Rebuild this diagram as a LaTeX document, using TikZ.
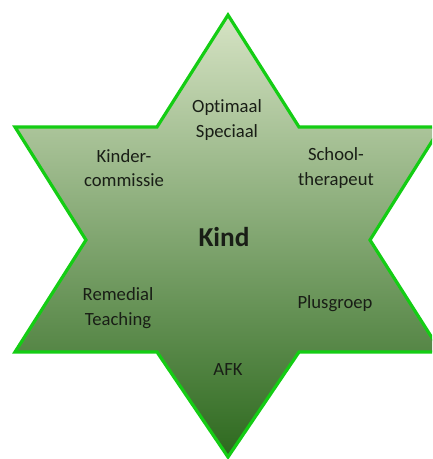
\documentclass[tikz,border=0pt]{standalone}
\usepackage{fontspec}
\setmainfont[Ligatures=NoCommon]{Carlito}
\usetikzlibrary{positioning}
\definecolor{startop}{RGB}{214,227,196}
\definecolor{starmid}{RGB}{155,183,115}
\definecolor{starbot}{RGB}{45,105,30}
\definecolor{starline}{RGB}{20,205,20}
\definecolor{lbltext}{RGB}{25,30,22}

\begin{document}
\begin{tikzpicture}[%
  x=0.75pt,
  y=-0.75pt,
  star/.style={
    draw=starline,
    line width=2.4pt,
    line join=miter,
    top color=startop,
    middle color=starmid,
    bottom color=starbot,},
  lbl/.style={
    align=center,
    text=lbltext,
    font=\fontsize{14}{18.5}\selectfont,},
  hub/.style={
    text=lbltext,
    font=\fontsize{20.5}{24}\selectfont\bfseries,}
  ]
  \useasboundingbox (0,0) rectangle (432,459);
  \clip (0,0) rectangle (432,459);
  %% Star
  \path[star] (228,15) -- (299,127) -- (441,127) -- (370,240)
    -- (441,352) -- (299,352) -- (228,457) -- (157,352)
    -- (15,352) -- (86,240) -- (15,127) -- (157,127) -- cycle;
  %% Nodes
  \node[hub] (kind) at (224,237) {Kind};
  \node[lbl] (optimaal) at (227,120) {Optimaal\\Speciaal};
  \node[lbl] (kinder) at (124,168) {Kinder-\\commissie};
  \node[lbl] (school) at (336,168) {School-\\therapeut};
  \node[lbl] (remedial) at (118,308) {Remedial\\Teaching};
  \node[lbl] (plus) at (335,304) {Plusgroep};
  \node[lbl] (afk) at (228,370) {AFK};
\end{tikzpicture}
\end{document}
